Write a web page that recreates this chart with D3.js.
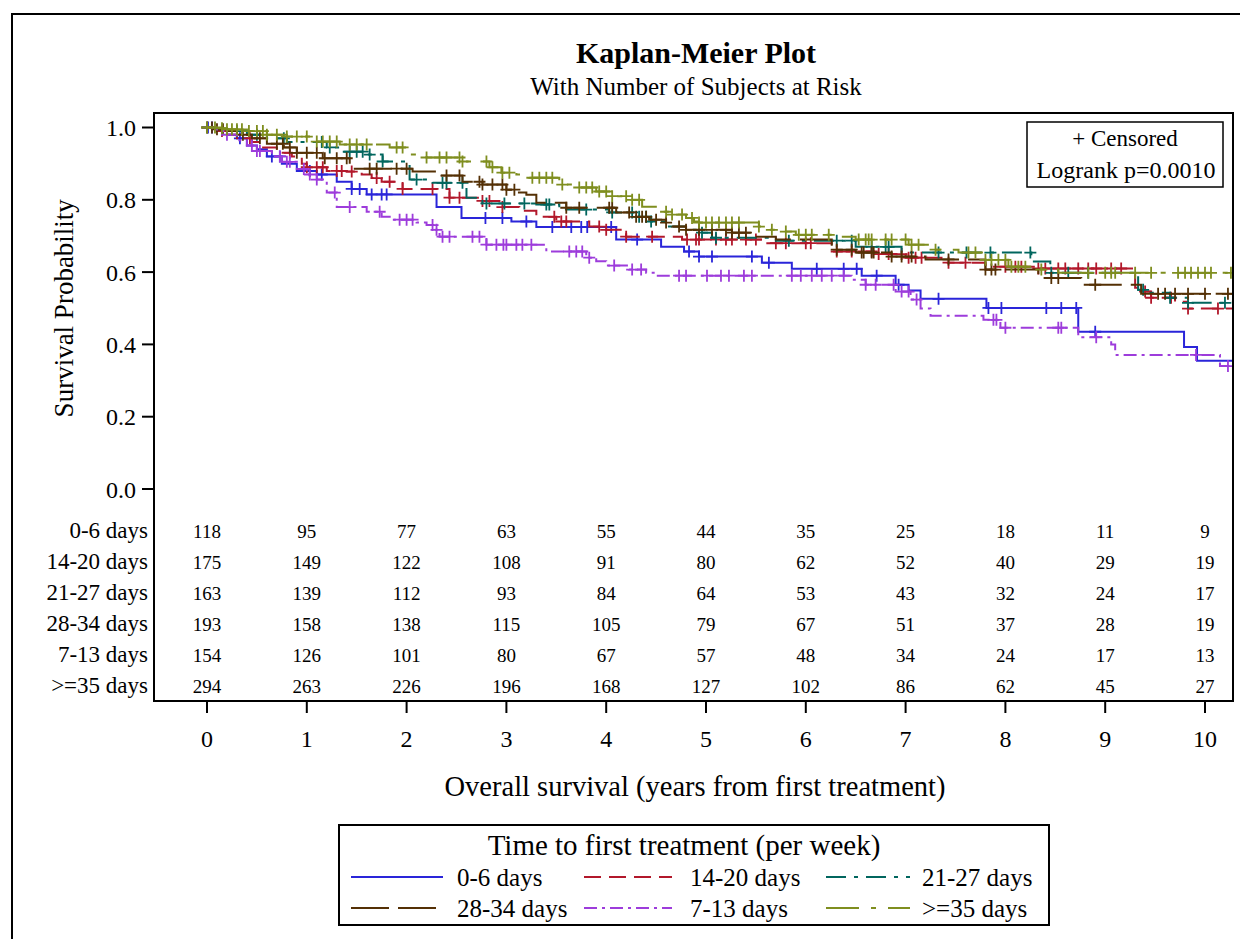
<!DOCTYPE html>
<html>
<head>
<meta charset="utf-8">
<script src="https://cdn.jsdelivr.net/npm/d3@7"></script>
<style>
  body { margin: 0; background: #fff; }
  svg { display: block; }
</style>
</head>
<body>
<div id="app"></div>
<script>
// group names, in legend / draw order
const groups = ['0-6 days', '14-20 days', '21-27 days', '28-34 days', '7-13 days', '>=35 days']
// at-risk table, top to bottom
const riskRows = ['0-6 days', '14-20 days', '21-27 days', '28-34 days', '7-13 days', '>=35 days']
const xTicks = [0, 1, 2, 3, 4, 5, 6, 7, 8, 9, 10]
const yTicks = [0.0, 0.2, 0.4, 0.6, 0.8, 1.0]

const risk_0_6   = [118, 95, 77, 63, 55, 44, 35, 25, 18, 11, 9]
const risk_14_20 = [175, 149, 122, 108, 91, 80, 62, 52, 40, 29, 19]
const risk_21_27 = [163, 139, 112, 93, 84, 64, 53, 43, 32, 24, 17]
const risk_28_34 = [193, 158, 138, 115, 105, 79, 67, 51, 37, 28, 19]
const risk_7_13  = [154, 126, 101, 80, 67, 57, 48, 34, 24, 17, 13]
const risk_35    = [294, 263, 226, 196, 168, 127, 102, 86, 62, 45, 27]

// KM steps: [years, survival after the drop]
const steps_0_6 = [[0,1],[0.1,0.99],[0.2,0.98],[0.3,0.97],[0.4,0.95],[0.5,0.94],[0.6,0.92],[0.75,0.9],[0.9,0.88],[1.1,0.87],
  [1.3,0.85],[1.45,0.83],[1.6,0.815],[2.3,0.78],[2.55,0.75],[3.05,0.74],[3.3,0.725],[4.1,0.69],[4.55,0.67],[4.78,0.657],
  [4.93,0.643],[5.56,0.626],[5.86,0.609],[6.56,0.59],[6.9,0.565],[7.03,0.549],[7.15,0.526],[7.81,0.501],[8.73,0.435],
  [9.79,0.393],[9.92,0.355]]
const steps_14_20 = [[0,1],[0.1,0.99],[0.2,0.98],[0.3,0.97],[0.45,0.96],[0.55,0.945],[0.7,0.93],[0.85,0.92],[0.95,0.9],
  [1.0,0.89],[1.2,0.88],[1.4,0.878],[1.55,0.87],[1.65,0.86],[1.75,0.85],[1.96,0.83],[2.43,0.806],[2.76,0.797],[2.93,0.78],
  [3.13,0.77],[3.3,0.753],[3.5,0.74],[3.83,0.726],[4.0,0.717],[4.2,0.698],[4.76,0.69],[5.6,0.68],[6.26,0.657],[6.73,0.65],
  [7.0,0.64],[7.36,0.626],[7.8,0.615],[8.33,0.61],[9.3,0.557],[9.4,0.546],[9.46,0.529],[9.7,0.518],[9.83,0.499]]
const steps_21_27 = [[0,1],[0.1,0.995],[0.25,0.99],[0.4,0.98],[0.6,0.97],[0.8,0.96],[1.2,0.945],[1.36,0.933],[1.6,0.925],
  [1.76,0.906],[2.03,0.856],[2.26,0.847],[2.6,0.806],[2.76,0.79],[3.3,0.787],[3.53,0.773],[4.03,0.765],[4.33,0.753],
  [4.45,0.74],[4.6,0.726],[4.8,0.717],[4.95,0.709],[5.06,0.695],[5.7,0.687],[6.5,0.67],[6.96,0.654],[8.26,0.629],
  [8.45,0.598],[9.33,0.551],[9.45,0.543],[9.65,0.529],[9.83,0.515]]
const steps_28_34 = [[0,1],[0.1,0.995],[0.2,0.99],[0.3,0.98],[0.45,0.97],[0.6,0.955],[0.77,0.945],[0.9,0.93],[1.16,0.915],
  [1.43,0.886],[2.06,0.878],[2.33,0.867],[2.56,0.85],[2.76,0.842],[3.0,0.828],[3.1,0.82],[3.2,0.814],[3.3,0.792],[3.6,0.778],
  [4.1,0.765],[4.3,0.753],[4.43,0.745],[4.6,0.737],[4.66,0.726],[4.8,0.717],[5.26,0.709],[5.45,0.698],[5.7,0.69],[6.26,0.662],
  [6.5,0.654],[6.86,0.643],[7.2,0.635],[7.8,0.607],[8.33,0.584],[8.76,0.565],[9.36,0.54]]
const steps_7_13 = [[0,1],[0.1,0.99],[0.2,0.98],[0.3,0.965],[0.4,0.95],[0.5,0.935],[0.65,0.92],[0.75,0.905],[0.9,0.885],
  [1.0,0.87],[1.1,0.856],[1.2,0.82],[1.3,0.78],[1.6,0.767],[1.75,0.753],[1.85,0.745],[2.1,0.737],[2.2,0.73],[2.28,0.717],
  [2.33,0.698],[2.8,0.676],[3.4,0.657],[3.8,0.64],[3.9,0.63],[4.0,0.618],[4.23,0.607],[4.4,0.598],[4.5,0.59],[6.46,0.579],
  [6.6,0.565],[6.9,0.546],[7.05,0.524],[7.15,0.499],[7.25,0.479],[7.78,0.468],[7.95,0.446],[8.73,0.42],[9.06,0.4],
  [9.1,0.371],[10.15,0.34]]
const steps_35 = [[0,1],[0.1,0.998],[0.2,0.995],[0.4,0.99],[0.6,0.98],[0.8,0.975],[1.1,0.961],[1.33,0.953],[1.83,0.945],
  [2.03,0.925],[2.2,0.917],[2.56,0.906],[2.83,0.89],[2.95,0.875],[3.1,0.87],[3.23,0.861],[3.53,0.842],[3.66,0.834],
  [3.9,0.823],[4.06,0.81],[4.25,0.8],[4.36,0.781],[4.53,0.767],[4.66,0.759],[4.8,0.75],[4.88,0.74],[4.93,0.737],
  [5.53,0.726],[5.65,0.717],[5.76,0.712],[5.9,0.703],[6.26,0.698],[6.5,0.69],[7.03,0.676],[7.3,0.662],[7.53,0.654],
  [7.8,0.634],[8.03,0.615],[8.3,0.607],[8.53,0.598]]

// censored times (years)
const cens_0_6 = [0.01,0.05,0.33,0.65,0.73,1.03,1.15,1.45,1.53,1.65,1.75,1.8,2.79,2.96,3.2,3.46,3.65,3.75,3.81,4.05,
  4.31,4.83,4.93,5.06,5.46,5.63,6.11,6.38,6.51,6.71,6.93,7.33,7.83,7.96,8.41,8.56,8.71,8.9]
const cens_14_20 = [0.15,0.43,0.83,1.0,1.1,1.16,1.3,1.35,1.45,1.7,1.83,1.96,2.26,2.43,2.53,2.76,2.83,2.96,3.48,3.55,3.6,
  3.93,4.0,4.2,4.46,4.81,4.9,4.93,5.1,5.2,5.26,5.4,5.5,5.7,5.8,6.0,6.05,6.31,6.46,6.66,6.73,6.83,6.96,7.03,7.1,7.16,7.43,
  7.6,8.0,8.1,8.16,8.33,8.4,8.53,8.6,8.73,8.83,8.91,9.06,9.16,9.4,9.46,9.66,9.83,10.13]
const cens_21_27 = [0.3,0.5,0.77,1.15,1.23,1.43,1.5,1.56,1.63,1.76,2.1,2.36,2.4,2.56,2.8,2.98,3.18,3.4,3.43,3.8,4.06,
  4.26,4.33,4.4,4.45,4.96,5.1,5.83,6.31,6.46,6.66,6.8,6.83,7.33,7.61,7.85,8.25,8.46,8.63,8.83,9.38,9.65,9.83,10.2]
const cens_28_34 = [0.0,0.05,0.1,0.16,0.36,0.53,0.7,0.76,0.83,0.9,1.0,1.1,1.18,1.3,1.4,1.63,1.7,1.9,2.0,2.4,2.53,2.73,
  2.76,2.86,2.96,3.0,3.08,3.6,3.73,4.03,4.06,4.23,4.3,4.36,4.4,4.5,4.6,4.73,4.8,4.93,5.06,5.2,5.26,5.33,5.4,6.31,6.46,
  6.56,6.58,6.66,6.68,6.86,6.96,7.06,7.43,7.8,7.86,7.9,8.46,8.53,8.9,9.53,9.6,9.7,9.83,10.0,10.23]
const cens_7_13 = [0.2,0.45,0.5,0.53,0.73,0.8,0.83,0.97,1.03,1.1,1.28,1.43,1.73,1.93,2.0,2.06,2.26,2.3,2.36,2.43,2.66,
  2.73,2.8,2.9,2.97,3.0,3.1,3.16,3.25,3.63,3.7,3.76,3.83,4.08,4.26,4.35,4.73,4.8,5.01,5.15,5.23,5.38,5.46,5.86,5.95,6.06,
  6.16,6.26,6.38,6.6,6.7,6.88,6.96,7.03,7.11,7.88,7.91,8.0,8.53,8.56,8.91,9.91,10.23]
const cens_35 = [0.0,0.08,0.15,0.2,0.25,0.3,0.35,0.42,0.5,0.56,0.6,0.7,0.8,0.9,1.0,1.1,1.16,1.23,1.3,1.43,1.5,1.6,1.9,
  1.96,2.2,2.33,2.4,2.53,2.56,2.8,2.86,2.96,3.03,3.26,3.33,3.4,3.46,3.56,3.73,3.8,3.86,3.93,4.0,4.06,4.2,4.26,4.33,4.6,
  4.66,4.76,4.86,4.93,5.0,5.06,5.13,5.2,5.26,5.33,5.53,5.66,5.8,5.93,6.0,6.06,6.23,6.53,6.6,6.63,6.66,6.8,6.86,7.0,7.06,
  7.13,7.3,7.63,7.7,7.8,7.86,7.93,8.0,8.06,8.13,8.2,8.36,8.83,9.0,9.06,9.1,9.3,9.46,9.73,9.8,9.86,9.93,10.0,10.06,10.26]

const colors = ['#2A25D9', '#B2182B', '#01665E', '#543005', '#9D3CDB', '#7F8E1F']
const dashes = [null, '17,8', '20,8,4,8', '38,9', '13,5,3,5', '33,12,5,12']
const stepsBy = [steps_0_6, steps_14_20, steps_21_27, steps_28_34, steps_7_13, steps_35]
const censBy = [cens_0_6, cens_14_20, cens_21_27, cens_28_34, cens_7_13, cens_35]
const riskBy = [risk_0_6, risk_14_20, risk_21_27, risk_28_34, risk_7_13, risk_35]

const FONT = '"Liberation Serif", "Times New Roman", serif'
const W = 1240, H = 939
const FRAME = { left: 154, top: 113, right: 1233, bottom: 701 }
const X_END = 10.4

const svg = d3.select('#app').append('svg')
  .attr('width', W).attr('height', H)
  .style('font-family', FONT)

// outer border (runs off the right/bottom like the source)
svg.append('rect')
  .attr('x', 12).attr('y', 14).attr('width', W).attr('height', H)
  .attr('fill', 'none').attr('stroke', '#000').attr('stroke-width', 2)

const x = d3.scaleLinear().domain([0, 10]).range([207, 1205])
const y = d3.scaleLinear().domain([0, 1]).range([489, 127.5])

svg.append('text').attr('x', 696).attr('y', 63)
  .attr('text-anchor', 'middle').attr('font-weight', 'bold').attr('font-size', 30)
  .text('Kaplan-Meier Plot')
svg.append('text').attr('x', 696).attr('y', 95)
  .attr('text-anchor', 'middle').attr('font-size', 25)
  .text('With Number of Subjects at Risk')

// y axis
const yAxis = svg.append('g')
yAxis.selectAll('line').data(yTicks).join('line')
  .attr('x1', 142).attr('x2', FRAME.left)
  .attr('y1', d => y(d)).attr('y2', d => y(d))
  .attr('stroke', '#000').attr('stroke-width', 2)
yAxis.selectAll('text').data(yTicks).join('text')
  .attr('x', 136).attr('y', d => y(d) + 8.5)
  .attr('text-anchor', 'end').attr('font-size', 24)
  .text(d => d3.format('.1f')(d))
svg.append('text')
  .attr('transform', `translate(73, ${y(0.5)}) rotate(-90)`)
  .attr('text-anchor', 'middle').attr('font-size', 27)
  .text('Survival Probability')

// x axis
const xAxis = svg.append('g')
xAxis.selectAll('line').data(xTicks).join('line')
  .attr('x1', d => x(d)).attr('x2', d => x(d))
  .attr('y1', FRAME.bottom).attr('y2', 713)
  .attr('stroke', '#000').attr('stroke-width', 2)
xAxis.selectAll('text').data(xTicks).join('text')
  .attr('x', d => x(d)).attr('y', 747)
  .attr('text-anchor', 'middle').attr('font-size', 24)
  .text(d => d)
svg.append('text').attr('x', 695).attr('y', 796)
  .attr('text-anchor', 'middle').attr('font-size', 28.5)
  .text('Overall survival (years from first treatment)')

// at-risk table
const rowY = i => 538 + i * 31
riskRows.forEach((name, i) => {
  svg.append('text').attr('x', 148).attr('y', rowY(i))
    .attr('text-anchor', 'end').attr('font-size', 23)
    .text(name)
  svg.append('g').selectAll('text').data(riskBy[i]).join('text')
    .attr('x', (d, j) => x(xTicks[j])).attr('y', rowY(i))
    .attr('text-anchor', 'middle').attr('font-size', 19)
    .text(d => d)
})

// curves
svg.append('defs').append('clipPath').attr('id', 'plot-clip')
  .append('rect')
  .attr('x', FRAME.left).attr('y', FRAME.top)
  .attr('width', FRAME.right - FRAME.left).attr('height', FRAME.bottom - FRAME.top)

const survAt = (steps, t) => {
  let s = steps[0][1]
  for (const [ti, si] of steps) {
    if (ti <= t) s = si
    else break
  }
  return s
}

const line = d3.line()
  .x(d => x(d[0])).y(d => y(d[1]))
  .curve(d3.curveStepAfter)

const curves = svg.append('g').attr('clip-path', 'url(#plot-clip)')
groups.forEach((g, i) => {
  const st = stepsBy[i]
  const pts = st.concat([[X_END, st[st.length - 1][1]]])
  curves.append('path')
    .attr('d', line(pts))
    .attr('fill', 'none')
    .attr('stroke', colors[i]).attr('stroke-width', 2)
    .attr('stroke-dasharray', dashes[i])
  curves.append('g').selectAll('path').data(censBy[i]).join('path')
    .attr('d', t => `M${x(t) - 6},${y(survAt(st, t))}h12M${x(t)},${y(survAt(st, t)) - 6}v12`)
    .attr('stroke', colors[i]).attr('stroke-width', 1.8)
    .attr('fill', 'none')
})

// plot frame
svg.append('rect')
  .attr('x', FRAME.left).attr('y', FRAME.top)
  .attr('width', FRAME.right - FRAME.left).attr('height', FRAME.bottom - FRAME.top)
  .attr('fill', 'none').attr('stroke', '#000').attr('stroke-width', 2)

// inset box
svg.append('rect').attr('x', 1027).attr('y', 122).attr('width', 196).attr('height', 65)
  .attr('fill', '#fff').attr('stroke', '#000').attr('stroke-width', 1.5)
svg.append('text').attr('x', 1125).attr('y', 146).attr('text-anchor', 'middle').attr('font-size', 23)
  .text('+ Censored')
svg.append('text').attr('x', 1126).attr('y', 178).attr('text-anchor', 'middle').attr('font-size', 24)
  .text('Logrank p=0.0010')

// legend
svg.append('rect').attr('x', 339).attr('y', 825).attr('width', 710).attr('height', 100)
  .attr('fill', '#fff').attr('stroke', '#000').attr('stroke-width', 2)
svg.append('text').attr('x', 684).attr('y', 855).attr('text-anchor', 'middle').attr('font-size', 29)
  .text('Time to first treatment (per week)')

const legCols = [[351, 443, 457], [584, 672, 690], [826, 910, 922]]
const legRows = [877, 908]
groups.forEach((g, i) => {
  const c = legCols[i % 3], r = legRows[Math.floor(i / 3)]
  svg.append('line')
    .attr('x1', c[0]).attr('x2', c[1]).attr('y1', r).attr('y2', r)
    .attr('stroke', colors[i]).attr('stroke-width', 2)
    .attr('stroke-dasharray', dashes[i])
  svg.append('text').attr('x', c[2]).attr('y', r + 9).attr('font-size', 25)
    .text(g)
})
</script>
</body>
</html>
